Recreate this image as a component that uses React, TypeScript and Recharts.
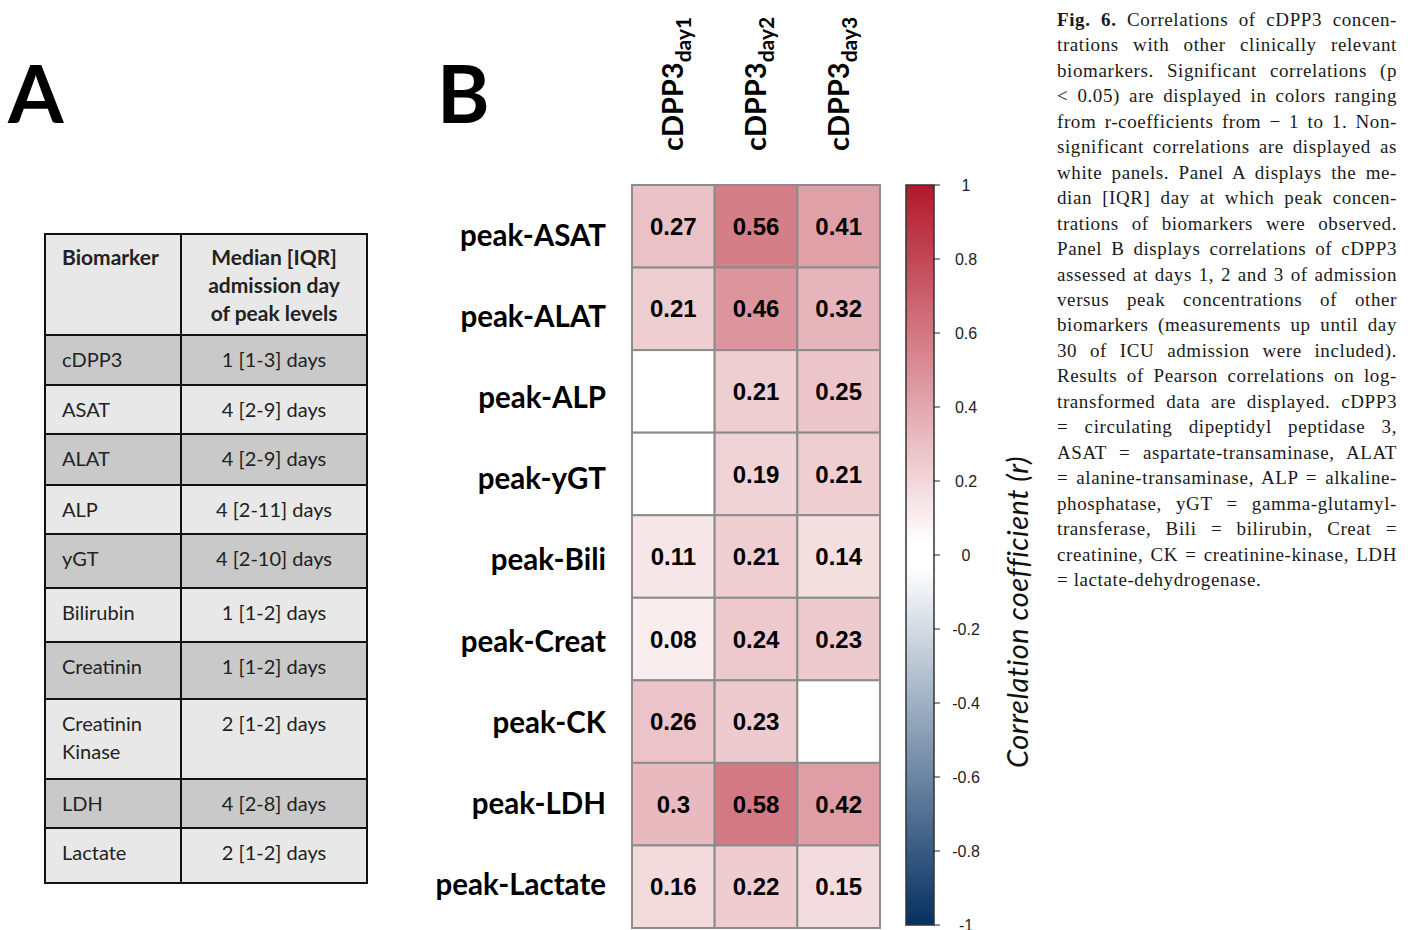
import React from "react";
import { ScatterChart, Scatter, XAxis, YAxis, ComposedChart, Bar } from "recharts";

// ── Data ─────────────────────────────────────────────────────

// Panel A table
const biomarkers = [
  "cDPP3", "ASAT", "ALAT", "ALP", "yGT",
  "Bilirubin", "Creatinin", "Creatinin Kinase", "LDH", "Lactate",
];
const peakDays = [
  "1 [1-3] days", "4 [2-9] days", "4 [2-9] days", "4 [2-11] days", "4 [2-10] days",
  "1 [1-2] days", "1 [1-2] days", "2 [1-2] days", "4 [2-8] days", "2 [1-2] days",
];
const headerLines = ["Median [IQR]", "admission day", "of peak levels"];

// Panel B heatmap (null = not significant, white panel)
const rowLabels = [
  "peak-ASAT", "peak-ALAT", "peak-ALP", "peak-yGT", "peak-Bili",
  "peak-Creat", "peak-CK", "peak-LDH", "peak-Lactate",
];
const colDays = ["day1", "day2", "day3"];
const rDay1 = [0.27, 0.21, null, null, 0.11, 0.08, 0.26, 0.3, 0.16];
const rDay2 = [0.56, 0.46, 0.21, 0.19, 0.21, 0.24, 0.23, 0.58, 0.22];
const rDay3 = [0.41, 0.32, 0.25, 0.21, 0.14, 0.23, null, 0.42, 0.15];

const cbTicks = [-1, -0.8, -0.6, -0.4, -0.2, 0, 0.2, 0.4, 0.6, 0.8, 1];

const captionLines = [
  "Correlations of cDPP3 concen-",
  "trations with other clinically relevant",
  "biomarkers. Significant correlations (p",
  "< 0.05) are displayed in colors ranging",
  "from r-coefficients from \u2212 1 to 1. Non-",
  "significant correlations are displayed as",
  "white panels. Panel A displays the me-",
  "dian [IQR] day at which peak concen-",
  "trations of biomarkers were observed.",
  "Panel B displays correlations of cDPP3",
  "assessed at days 1, 2 and 3 of admission",
  "versus peak concentrations of other",
  "biomarkers (measurements up until day",
  "30 of ICU admission were included).",
  "Results of Pearson correlations on log-",
  "transformed data are displayed. cDPP3",
  "= circulating dipeptidyl peptidase 3,",
  "ASAT = aspartate-transaminase, ALAT",
  "= alanine-transaminase, ALP = alkaline-",
  "phosphatase, yGT = gamma-glutamyl-",
  "transferase, Bili = bilirubin, Creat =",
  "creatinine, CK = creatinine-kinase, LDH",
  "= lactate-dehydrogenase.",
];

// ── Helpers ──────────────────────────────────────────────────

const RED = [178, 24, 43];
const BLUE = [5, 48, 97];

const rColor = (r: number | null) => {
  if (r == null) return "#ffffff";
  const end = r >= 0 ? RED : BLUE;
  const t = Math.min(1, Math.abs(r));
  const c = end.map((e) => Math.round(255 + (e - 255) * t));
  return `rgb(${c[0]},${c[1]},${c[2]})`;
};

const cells = [rDay1, rDay2, rDay3].flatMap((col, c) =>
  col.map((r, i) => ({ x: c, y: i, r }))
);

const HM_LEFT = 400;
const PLOT_W = 248;
const PLOT_H = 743;
const CELL_W = PLOT_W / 3;
const CELL_H = PLOT_H / 9;
const LABEL_FONT = "Lato, 'Open Sans', sans-serif";

const HeatCell = (props: any) => {
  const { cx, cy, payload } = props;
  return (
    <g>
      <rect
        x={cx - CELL_W / 2} y={cy - CELL_H / 2}
        width={CELL_W} height={CELL_H}
        fill={rColor(payload.r)} stroke="#8c8c8c" strokeWidth={2}
      />
      {payload.r != null && (
        <text
          x={cx} y={cy} dy="0.36em" textAnchor="middle"
          fontFamily="'Liberation Sans', Arial, sans-serif" fontWeight={700}
          fontSize={24} fill="#000"
        >
          {payload.r}
        </text>
      )}
    </g>
  );
};

const ColTick = (props: any) => {
  const { x, payload } = props;
  return (
    <text
      transform={`translate(${x + 10},151) rotate(-90)`}
      fontFamily={LABEL_FONT} fontWeight={700} fontSize={29} fill="#000"
    >
      cDPP3
      <tspan dy={8} fontSize={21}>{colDays[payload.value]}</tspan>
    </text>
  );
};

const RowTick = (props: any) => {
  const { y, payload } = props;
  const i = payload.value;
  return (
    <text
      x={606 - HM_LEFT} y={y + 10.5 + 9 - 1.4 * i} textAnchor="end"
      fontFamily={LABEL_FONT} fontWeight={700} fontSize={29.5} fill="#000"
    >
      {rowLabels[i]}
    </text>
  );
};

const CbTick = (props: any) => {
  const { y, payload } = props;
  return (
    <text
      x={966 - 880} y={y} dy="0.35em" textAnchor="middle"
      fontFamily="'Liberation Sans', Arial, sans-serif" fontSize={16} fill="#222"
    >
      {String(payload.value)}
    </text>
  );
};

// ── Panel A table ────────────────────────────────────────────

const rowH = [50, 49, 51, 49, 54, 54, 57, 80, 49, 53];

const TableA: React.FC = () => (
  <div style={styles.table}>
    <div style={{ ...styles.row, height: 101, background: "#e8e8e8" }}>
      <div style={{ ...styles.left, fontWeight: 700, fontSize: 21, paddingTop: 8 }}>Biomarker</div>
      <div style={{ ...styles.right, fontWeight: 700, fontSize: 21, paddingTop: 8 }}>
        {headerLines.map((l) => <div key={l}>{l}</div>)}
      </div>
    </div>
    {biomarkers.map((b, i) => (
      <div
        key={b}
        style={{
          ...styles.row,
          height: rowH[i],
          background: i % 2 === 0 ? "#c9c9c9" : "#e8e8e8",
          borderBottom: i === biomarkers.length - 1 ? "none" : "2px solid #111",
        }}
      >
        <div style={styles.left}>{b}</div>
        <div style={styles.right}>{peakDays[i]}</div>
      </div>
    ))}
  </div>
);

// ── App ──────────────────────────────────────────────────────

export default function App() {
  return (
    <div style={styles.page}>
      <svg width={1415} height={930} style={{ position: "absolute", left: 0, top: 0 }}>
        <text x={8} y={123} fontFamily={LABEL_FONT} fontWeight={700} fontSize={80} fill="#000">A</text>
        <text x={437} y={123} fontFamily={LABEL_FONT} fontWeight={700} fontSize={80} fill="#000">B</text>
        <text
          transform="translate(1028,612) rotate(-90)" textAnchor="middle"
          fontFamily={LABEL_FONT} fontStyle="italic" fontSize={29} letterSpacing={0.5} fill="#111"
        >
          Correlation coefficient (r)
        </text>
      </svg>

      <TableA />

      <div style={{ position: "absolute", left: HM_LEFT, top: 0 }}>
        <ScatterChart width={500} height={930} margin={{ top: 0, right: 20, bottom: 2, left: 0 }}>
          <XAxis
            type="number" dataKey="x" orientation="top" height={185}
            domain={[-0.5, 2.5]} ticks={[0, 1, 2]} interval={0}
            axisLine={false} tickLine={false} tick={<ColTick />}
          />
          <YAxis
            type="number" dataKey="y" width={232} reversed
            domain={[-0.5, 8.5]} ticks={[0, 1, 2, 3, 4, 5, 6, 7, 8]} interval={0}
            axisLine={false} tickLine={false} tick={<RowTick />}
          />
          <Scatter data={cells} shape={HeatCell} isAnimationActive={false} />
        </ScatterChart>
      </div>

      <div style={{ position: "absolute", left: 880, top: 0 }}>
        <ComposedChart
          width={114} height={930}
          data={[{ k: "cb", range: [-1, 1] }]}
          margin={{ top: 185, right: 0, bottom: 5, left: 26 }}
          barCategoryGap={0}
        >
          <defs>
            <linearGradient id="cbGrad" x1="0" y1="0" x2="0" y2="1">
              <stop offset="0%" stopColor="#b2182b" />
              <stop offset="48.5%" stopColor="#ffffff" />
              <stop offset="51.5%" stopColor="#ffffff" />
              <stop offset="100%" stopColor="#053061" />
            </linearGradient>
          </defs>
          <XAxis dataKey="k" hide />
          <YAxis
            orientation="right" type="number" width={60}
            domain={[-1, 1]} ticks={cbTicks} interval={0}
            axisLine={false} tickSize={6} tickLine={{ stroke: "#222" }}
            tick={<CbTick />}
          />
          <Bar dataKey="range" fill="url(#cbGrad)" stroke="#333" strokeWidth={1.5} isAnimationActive={false} />
        </ComposedChart>
      </div>

      <div style={styles.caption}>
        {captionLines.map((l, i) => (
          <div
            key={i}
            style={{
              textAlign: "justify",
              textAlignLast: i === captionLines.length - 1 ? "left" : "justify",
            }}
          >
            {i === 0 && <b>Fig. 6. </b>}
            {l}
          </div>
        ))}
      </div>
    </div>
  );
}

const styles: Record<string, React.CSSProperties> = {
  page: {
    position: "absolute", left: 0, top: 0, width: 1415, height: 930,
    background: "#fff", overflow: "hidden",
  },
  table: {
    position: "absolute", left: 44, top: 233, width: 324,
    border: "2px solid #111", boxSizing: "border-box",
    fontFamily: LABEL_FONT, fontSize: 20, color: "#222", lineHeight: "28px",
  },
  row: {
    display: "flex", boxSizing: "border-box", borderBottom: "2px solid #111",
  },
  left: {
    width: 136, borderRight: "2px solid #111", paddingLeft: 16, paddingTop: 9,
    boxSizing: "border-box",
  },
  right: { flex: 1, textAlign: "center", paddingTop: 9 },
  caption: {
    position: "absolute", left: 1057, top: 7, width: 340,
    fontFamily: "'Liberation Serif', 'Times New Roman', serif", fontSize: 19,
    letterSpacing: 0.6, lineHeight: "25.45px", color: "#1a1a1a",
  },
};
